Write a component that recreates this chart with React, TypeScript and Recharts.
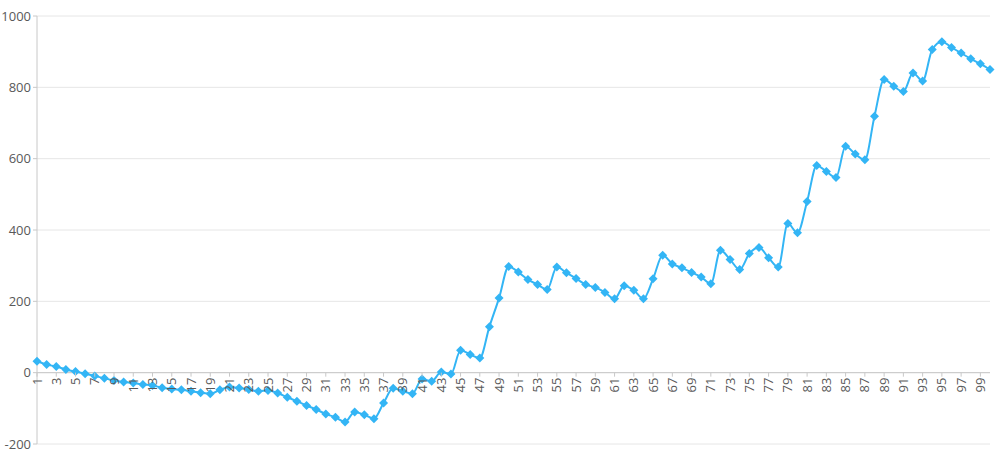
import { LineChart, Line, XAxis, YAxis, CartesianGrid, ReferenceLine } from "recharts";

const categories = Array.from({ length: 100 }, (_, i) => String(i + 1));

const values = [
  32, 23, 17, 9, 3, -3, -9, -16, -22, -26,
  -29, -33, -36, -42, -46, -48, -52, -56, -59, -48,
  -40, -43, -47, -52, -50, -57, -69, -80, -92, -103,
  -116, -125, -138, -110, -118, -129, -85, -44, -52, -59,
  -18, -24, 2, -4, 63, 51, 41, 129, 209, 298,
  282, 261, 247, 233, 296, 280, 264, 247, 239, 225,
  207, 244, 231, 207, 263, 329, 305, 294, 281, 268,
  249, 343, 317, 289, 334, 351, 322, 296, 418, 392,
  480, 581, 564, 547, 635, 613, 597, 719, 822, 803,
  788, 840, 818, 906, 928, 912, 896, 880, 866, 850,
];

const yTicks = [-200, 0, 200, 400, 600, 800, 1000];
const Y_MIN = -200;
const Y_MAX = 1000;

const data = categories.map((c, i) => ({ name: c, value: values[i] }));

const WIDTH = 1000;
const HEIGHT = 460;
const X_AXIS_H = 16;
const MARGIN = { top: 16, right: 10, bottom: 0, left: 0 };
const PLOT_H = HEIGHT - MARGIN.top - MARGIN.bottom - X_AXIS_H;

const LINE_COLOR = "#33b5f5";
const TEXT_COLOR = "#595959";
const FONT = "'Open Sans', sans-serif";

// x axis sits on the zero line, so shift the ticks up from the plot bottom
const ZeroTick = (props: any) => {
  const { x, y, payload } = props;
  const zeroY = y - (PLOT_H * (0 - Y_MIN)) / (Y_MAX - Y_MIN);
  const ty = zeroY + 5;
  return (
    <g>
      <line x1={x} x2={x} y1={zeroY} y2={zeroY + 4} stroke="#c8c8c8" />
      <text
        x={x}
        y={ty}
        transform={`rotate(-90, ${x}, ${ty})`}
        textAnchor="end"
        dy="0.35em"
        fill={TEXT_COLOR}
        fontSize={13}
        fontFamily={FONT}
      >
        {payload.value}
      </text>
    </g>
  );
};

const Diamond = (props: any) => {
  const { cx, cy } = props;
  if (cx == null || cy == null) return null;
  const r = 4.5;
  return (
    <polygon
      points={`${cx},${cy - r} ${cx + r},${cy} ${cx},${cy + r} ${cx - r},${cy}`}
      fill={LINE_COLOR}
    />
  );
};

export default function App() {
  return (
    <div style={{ position: "absolute", left: 0, top: 0, background: "#fff" }}>
      <LineChart width={WIDTH} height={HEIGHT} data={data} margin={MARGIN}>
        <CartesianGrid vertical={false} stroke="#e6e6e6" />
        <XAxis
          dataKey="name"
          height={X_AXIS_H}
          axisLine={false}
          tickLine={false}
          tickSize={0}
          tickMargin={0}
          interval={1}
          tick={ZeroTick}
        />
        <YAxis
          width={37}
          domain={[Y_MIN, Y_MAX]}
          ticks={yTicks}
          allowDataOverflow
          axisLine={{ stroke: "#c8c8c8" }}
          tickLine={{ stroke: "#c8c8c8" }}
          tickSize={4}
          tickMargin={2}
          tick={{ fill: TEXT_COLOR, fontSize: 13, fontFamily: FONT }}
        />
        <ReferenceLine y={0} stroke="#c8c8c8" />
        <Line
          type="monotone"
          dataKey="value"
          stroke={LINE_COLOR}
          strokeWidth={2}
          dot={<Diamond />}
          activeDot={false}
          isAnimationActive={false}
        />
      </LineChart>
    </div>
  );
}
